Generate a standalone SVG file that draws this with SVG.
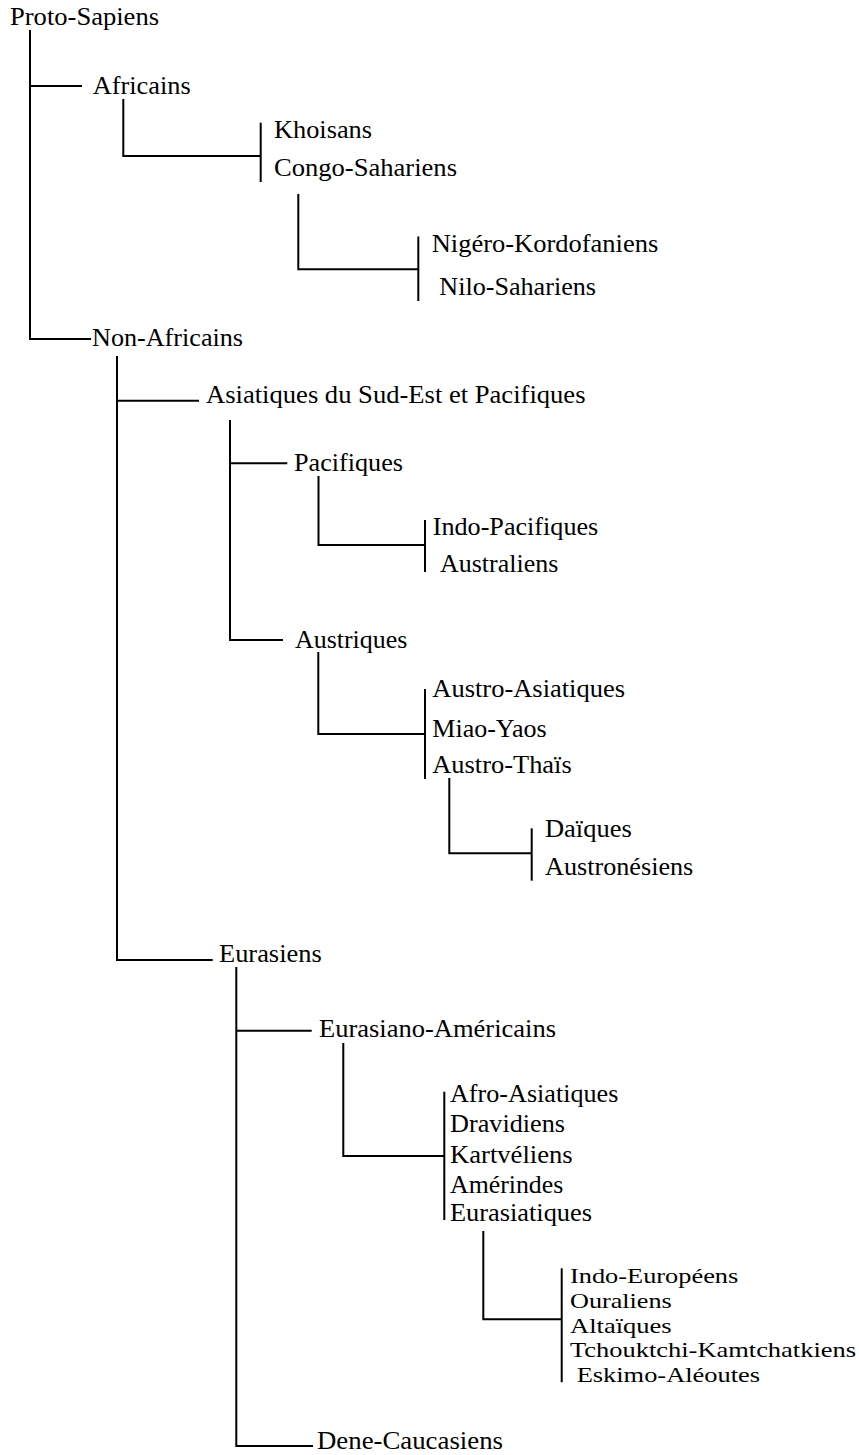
<svg xmlns="http://www.w3.org/2000/svg" width="859" height="1455" viewBox="0 0 859 1455">
<style>
.t{font-family:"Liberation Serif","Times New Roman",serif;font-size:25px;fill:#000}
.s{font-size:22px}
.c{fill:none;stroke:#000;stroke-width:2}
</style>
<rect x="0" y="0" width="859" height="1455" fill="#fff"/>
<g id="connectors" class="c">
<path d="M30,30 V339 H91"/>
<path d="M30,86 H82"/>
<path d="M123.3,99 V156 H260.7"/>
<path d="M260.7,122.7 V182"/>
<path d="M298.3,194 V269.3 H418.3"/>
<path d="M418.3,236.5 V301"/>
<path d="M117,356 V960 H212.7"/>
<path d="M117,400.7 H199"/>
<path d="M230,420 V640 H283"/>
<path d="M230,463.3 H287.3"/>
<path d="M318.5,476 V545 H425"/>
<path d="M425,520 V572"/>
<path d="M318.3,652 V734 H425"/>
<path d="M425,689 V779"/>
<path d="M449.3,778 V853.3 H531.7"/>
<path d="M531.7,828.3 V880.7"/>
<path d="M236.3,967 V1446 H313"/>
<path d="M236.3,1030.7 H311.7"/>
<path d="M343.3,1043 V1156 H444.3"/>
<path d="M444.3,1091.7 V1220"/>
<path d="M483.3,1231 V1319.3 H561.7"/>
<path d="M561.7,1268.3 V1382.3"/>
</g>
<g id="proto-sapiens"><text class="t" x="10" y="25" textLength="149" lengthAdjust="spacingAndGlyphs">Proto-Sapiens</text></g>
<g id="africains"><text class="t" x="92.7" y="94" textLength="98" lengthAdjust="spacingAndGlyphs">Africains</text></g>
<g id="khoisans"><text class="t" x="274" y="138" textLength="98" lengthAdjust="spacingAndGlyphs">Khoisans</text></g>
<g id="congo-sahariens"><text class="t" x="274" y="176" textLength="183" lengthAdjust="spacingAndGlyphs">Congo-Sahariens</text></g>
<g id="nigero-kordofaniens"><text class="t" x="431.7" y="251.7" textLength="226.6" lengthAdjust="spacingAndGlyphs">Nigéro-Kordofaniens</text></g>
<g id="nilo-sahariens"><text class="t" x="439.3" y="295" textLength="156.7" lengthAdjust="spacingAndGlyphs">Nilo-Sahariens</text></g>
<g id="non-africains"><text class="t" x="92" y="346" textLength="151" lengthAdjust="spacingAndGlyphs">Non-Africains</text></g>
<g id="asiatiques-sud-est-pacifiques"><text class="t" x="206" y="402.7" textLength="379.5" lengthAdjust="spacingAndGlyphs">Asiatiques du Sud-Est et Pacifiques</text></g>
<g id="pacifiques"><text class="t" x="294" y="470.7" textLength="109" lengthAdjust="spacingAndGlyphs">Pacifiques</text></g>
<g id="indo-pacifiques"><text class="t" x="432.7" y="535" textLength="165.6" lengthAdjust="spacingAndGlyphs">Indo-Pacifiques</text></g>
<g id="australiens"><text class="t" x="440" y="571.7" textLength="118.3" lengthAdjust="spacingAndGlyphs">Australiens</text></g>
<g id="austriques"><text class="t" x="295" y="648" textLength="112.3" lengthAdjust="spacingAndGlyphs">Austriques</text></g>
<g id="austro-asiatiques"><text class="t" x="432.3" y="697.3" textLength="192.7" lengthAdjust="spacingAndGlyphs">Austro-Asiatiques</text></g>
<g id="miao-yaos"><text class="t" x="432.3" y="737.3" textLength="114.4" lengthAdjust="spacingAndGlyphs">Miao-Yaos</text></g>
<g id="austro-thais"><text class="t" x="432.3" y="772.7" textLength="139.4" lengthAdjust="spacingAndGlyphs">Austro-Thaïs</text></g>
<g id="daiques"><text class="t" x="545" y="837.3" textLength="86.7" lengthAdjust="spacingAndGlyphs">Daïques</text></g>
<g id="austronesiens"><text class="t" x="545" y="875" textLength="148.3" lengthAdjust="spacingAndGlyphs">Austronésiens</text></g>
<g id="eurasiens"><text class="t" x="219" y="961.7" textLength="102.7" lengthAdjust="spacingAndGlyphs">Eurasiens</text></g>
<g id="eurasiano-americains"><text class="t" x="319" y="1036.7" textLength="237" lengthAdjust="spacingAndGlyphs">Eurasiano-Américains</text></g>
<g id="afro-asiatiques"><text class="t" x="450" y="1101.7" textLength="168.3" lengthAdjust="spacingAndGlyphs">Afro-Asiatiques</text></g>
<g id="dravidiens"><text class="t" x="450" y="1131.7" textLength="115" lengthAdjust="spacingAndGlyphs">Dravidiens</text></g>
<g id="kartveliens"><text class="t" x="450" y="1163.3" textLength="122.7" lengthAdjust="spacingAndGlyphs">Kartvéliens</text></g>
<g id="amerindes"><text class="t" x="450" y="1193.3" textLength="113.3" lengthAdjust="spacingAndGlyphs">Amérindes</text></g>
<g id="eurasiatiques"><text class="t" x="450" y="1220.7" textLength="142" lengthAdjust="spacingAndGlyphs">Eurasiatiques</text></g>
<g id="indo-europeens"><text class="t s" x="570" y="1283.3" textLength="168.3" lengthAdjust="spacingAndGlyphs">Indo-Européens</text></g>
<g id="ouraliens"><text class="t s" x="570" y="1307.9" textLength="101.7" lengthAdjust="spacingAndGlyphs">Ouraliens</text></g>
<g id="altaiques"><text class="t s" x="570" y="1332.5" textLength="101.7" lengthAdjust="spacingAndGlyphs">Altaïques</text></g>
<g id="tchouktchi-kamtchatkiens"><text class="t s" x="570" y="1357.1" textLength="286" lengthAdjust="spacingAndGlyphs">Tchouktchi-Kamtchatkiens</text></g>
<g id="eskimo-aleoutes"><text class="t s" x="576.7" y="1381.7" textLength="183.3" lengthAdjust="spacingAndGlyphs">Eskimo-Aléoutes</text></g>
<g id="dene-caucasiens"><text class="t" x="317" y="1449" textLength="186" lengthAdjust="spacingAndGlyphs">Dene-Caucasiens</text></g>
</svg>
